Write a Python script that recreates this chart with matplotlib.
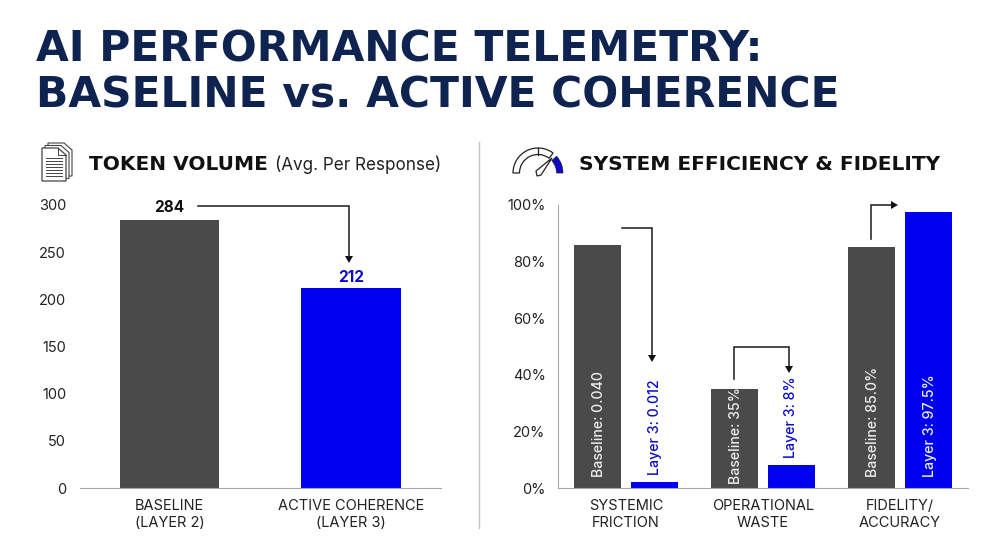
import matplotlib
matplotlib.use("Agg")
import matplotlib.pyplot as plt
from matplotlib.patches import Polygon, Wedge

W, H = 1000, 545

NAVY = "#0f2350"
GREY = "#4a4a4a"
BLUE = "#0000f0"
DARK_BLUE = "#0a0ac8"
INK = "#111111"

volume_labels = ["BASELINE\n(LAYER 2)", "ACTIVE COHERENCE\n(LAYER 3)"]
volume_values = [284, 212]
volume_ticks = [0, 50, 100, 150, 200, 250, 300]

metric_labels = ["SYSTEMIC\nFRICTION", "OPERATIONAL\nWASTE", "FIDELITY/\nACCURACY"]
baseline_values = [86, 35, 85]
layer3_values = [2, 8, 97.5]
baseline_text = ["Baseline: 0.040", "Baseline: 35%", "Baseline: 85.0%"]
layer3_text = ["Layer 3: 0.012", "Layer 3: 8%", "Layer 3: 97.5%"]
pct_ticks = [0, 20, 40, 60, 80, 100]

plt.rcParams["font.family"] = ["Inter", "DejaVu Sans"]


def px_axes(fig, x0, x1, y_top, y_bot):
    return fig.add_axes([x0 / W, 1 - y_bot / H, (x1 - x0) / W, (y_bot - y_top) / H])


fig = plt.figure(figsize=(10, 5.45), dpi=100, facecolor="white")

# overlay in pixel units for headers, icons and connectors
ov = fig.add_axes([0, 0, 1, 1], zorder=5)
ov.set_xlim(0, W)
ov.set_ylim(H, 0)
ov.axis("off")

# the wider bold face suits the headings
ov.text(36, 61, "AI PERFORMANCE TELEMETRY:", fontsize=30.5, family="DejaVu Sans", fontweight="bold", color=NAVY, va="baseline")
ov.text(36, 108, "BASELINE vs. ACTIVE COHERENCE", fontsize=30.5, family="DejaVu Sans", fontweight="bold", color=NAVY, va="baseline")

ov.text(89, 170, "TOKEN VOLUME", fontsize=14.5, family="DejaVu Sans", fontweight="bold", color=INK, va="baseline")
ov.text(275, 170, "(Avg. Per Response)", fontsize=12.3, color="#222222", va="baseline")
ov.text(579, 170, "SYSTEM EFFICIENCY & FIDELITY", fontsize=14.5, family="DejaVu Sans", fontweight="bold", color=INK, va="baseline")

ov.plot([479, 479], [142, 528], color="#c4c4c4", lw=1)

# left panel
ax = px_axes(fig, 80, 441, 205, 488)
ax.bar([0, 1], volume_values, width=0.55, color=[GREY, BLUE])
ax.set_xlim(-0.493, 1.496)
ax.set_ylim(0, 300)
ax.set_yticks(volume_ticks)
ax.set_xticks([0, 1])
ax.set_xticklabels(volume_labels, fontsize=10.5, color="#222222", linespacing=1.25)
ax.tick_params(axis="both", length=0)
ax.tick_params(axis="x", pad=8)
ax.tick_params(axis="y", labelsize=10.5, labelcolor="#222222", pad=10)
for side in ["top", "right", "left"]:
    ax.spines[side].set_visible(False)
ax.spines["bottom"].set_color("#a8a8a8")
ax.text(0, 297, str(volume_values[0]), ha="center", va="center", fontsize=11, fontweight="bold", color=INK, clip_on=False)
ax.text(1, 223, str(volume_values[1]), ha="center", va="center", fontsize=11, fontweight="bold", color=DARK_BLUE)

# right panel
ax2 = px_axes(fig, 558, 968, 205, 488)
group_x = [0, 1, 2]
bar_w = 0.344
offs = 0.208
ax2.bar([x - offs for x in group_x], baseline_values, width=bar_w, color=GREY)
ax2.bar([x + offs for x in group_x], layer3_values, width=bar_w, color=BLUE)
ax2.set_xlim(-0.497, 2.497)
ax2.set_ylim(0, 100)
ax2.set_yticks(pct_ticks)
ax2.set_yticklabels([f"{t}%" for t in pct_ticks])
ax2.set_xticks(group_x)
ax2.set_xticklabels(metric_labels, fontsize=10.5, color="#222222", linespacing=1.25)
ax2.tick_params(axis="both", length=0)
ax2.tick_params(axis="x", pad=8)
ax2.tick_params(axis="y", labelsize=10.5, labelcolor="#222222", pad=9)
for side in ["top", "right"]:
    ax2.spines[side].set_visible(False)
ax2.spines["bottom"].set_color("#a8a8a8")
ax2.spines["left"].set_color("#a8a8a8")

# rotated value labels, each with its own starting height on the axis
for x, s, start in zip(group_x, baseline_text, [3.9, 1.5, 3.9]):
    ax2.text(x - offs + 0.012, start, s, rotation=90, ha="center", va="bottom", fontsize=10.2, color="#ececec", fontweight="medium")
for x, s, v, start, nudge in zip(group_x, layer3_text, layer3_values, [4.6, 10.6, 3.9], [0, 0, 0.012]):
    on_bar = v > 50
    ax2.text(x + offs + nudge, start, s, rotation=90, ha="center", va="bottom", fontsize=10.2,
             color="#ececec" if on_bar else DARK_BLUE, fontweight="medium")


def connector(points, color="#1a1a1a"):
    xs, ys = zip(*points)
    ov.plot(xs, ys, color=color, lw=1.1, solid_joinstyle="miter")
    (x0, y0), (x1, y1) = points[-2], points[-1]
    dx = (x1 > x0) - (x1 < x0)
    dy = (y1 > y0) - (y1 < y0)
    ov.add_patch(Polygon([(x1 + dx * 7, y1 + dy * 7), (x1 + dy * 4, y1 + dx * 4), (x1 - dy * 4, y1 - dx * 4)],
                         closed=True, color="#111111", lw=0))


connector([(198, 206), (349, 206), (349, 256)])
connector([(622, 228), (652, 228), (652, 355)])
connector([(734, 379), (734, 347), (789, 347), (789, 366)])
connector([(871, 239), (871, 205), (891, 205)])

# document stack icon
for dx, dy in [(6, -5), (3, -2.5)]:
    ov.add_patch(Polygon([(42 + dx, 148 + dy), (58 + dx, 148 + dy), (66 + dx, 155 + dy), (66 + dx, 181 + dy), (42 + dx, 181 + dy)],
                         closed=True, fc="white", ec="#444444", lw=0.8))
ov.add_patch(Polygon([(42, 148), (58, 148), (66, 155), (66, 181), (42, 181)], closed=True, fc="white", ec="#444444", lw=0.9))
ov.plot([58, 58, 66], [148, 155, 155], color="#444444", lw=0.7)
for yy in range(158, 177, 3):
    ov.plot([46, 62], [yy, yy], color="#444444", lw=0.7)

# gauge icon; the overlay's y axis points down, so angles are negated
cx, cy = 538, 173
ov.add_patch(Wedge((cx, cy), 25, 180, 307, width=6.5, fc="white", ec="#222222", lw=0.9))
ov.add_patch(Wedge((cx, cy), 25, 318, 360, width=6.5, fc=DARK_BLUE, ec="#222222", lw=0.5))
ov.plot([cx, cx], [148, 154.5], color="#222222", lw=0.9)
ov.add_patch(Polygon([(536, 171), (552, 158), (541, 175), (537, 176)], closed=True, fc="white", ec="#222222", lw=0.9))

fig.savefig("out.png", dpi=100, facecolor="white")
